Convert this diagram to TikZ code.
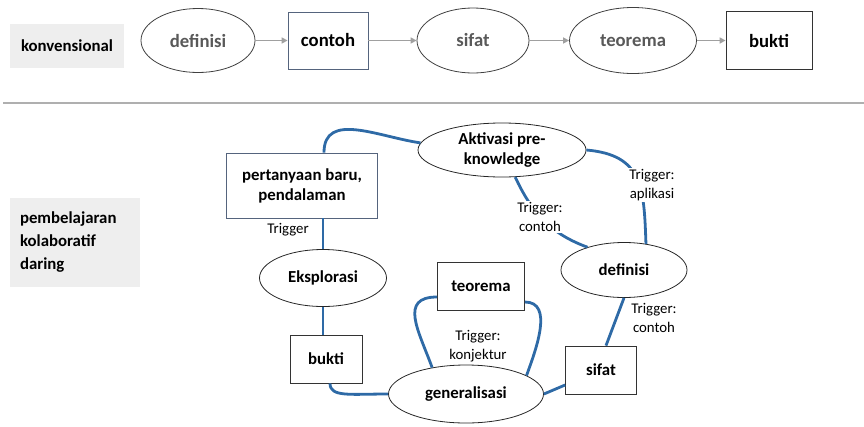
\documentclass[tikz,border=0pt]{standalone}
\usepackage{fontspec}
\setmainfont{Carlito}
\usetikzlibrary{shapes.geometric,arrows.meta}
\definecolor{flowblue}{RGB}{46,106,166}
\definecolor{panelgray}{RGB}{238,238,238}
\definecolor{softtext}{RGB}{89,89,89}
\definecolor{arrowgray}{RGB}{160,160,160}
\definecolor{rulegray}{RGB}{175,175,175}
\definecolor{slate}{RGB}{85,100,125}

\begin{document}
\begin{tikzpicture}[x=1pt,y=1pt,
  panel/.style={fill=panelgray, inner sep=0pt, font=\fontsize{16.8}{23}\selectfont\bfseries},
  topoval/.style={ellipse, draw=black!75, line width=0.8pt, inner sep=0pt, text=softtext, font=\fontsize{18.7}{22}\selectfont\bfseries},
  topbox/.style={rectangle, draw=black!80, line width=0.8pt, inner sep=0pt, font=\fontsize{18.7}{22}\selectfont\bfseries},
  oval/.style={ellipse, draw=black!85, line width=0.8pt, inner sep=0pt, align=center, font=\fontsize{16.8}{20}\selectfont\bfseries},
  box/.style={rectangle, draw=black!80, line width=0.8pt, inner sep=0pt, align=center, font=\fontsize{16.8}{20}\selectfont\bfseries},
  flow/.style={-{Triangle[length=6pt,width=6pt]}, draw=arrowgray, line width=1.8pt},
  link/.style={draw=flowblue, line width=2.8pt},
  trig/.style={fill=white, inner sep=1pt, align=center, font=\fontsize{14.8}{19.5}\selectfont}
]
\useasboundingbox (0,0) rectangle (864,-426);

% conventional sequence
\node[panel, minimum width=114, minimum height=44] (konv) at (67,-46) {konvensional};
\node[topoval, minimum width=114, minimum height=64] (tdef) at (198,-40.5) {definisi};
\node[topbox, draw=slate, minimum width=80, minimum height=57] (tcon) at (328,-40.5) {contoh};
\node[topoval, minimum width=112, minimum height=65] (tsif) at (473,-40.5) {sifat};
\node[topoval, minimum width=127, minimum height=66] (tteo) at (633,-40.5) {teorema};
\node[topbox, minimum width=86, minimum height=58] (tbuk) at (769,-40.5) {bukti};

\draw[flow] (tdef) -- (tcon);
\draw[flow] (tcon) -- (tsif);
\draw[flow] (tsif) -- (tteo);
\draw[flow] (tteo) -- (tbuk);

% separator
\draw[rulegray, line width=1.5pt] (3,-103) -- (864,-103);

% collaborative cycle
\node[panel, minimum width=130, minimum height=89, text width=110pt, align=left] (kol) at (75,-242.5)
  {pembelajaran\\kolaboratif\\daring};

\node[oval, minimum width=168, minimum height=54] (akt) at (502,-150) {Aktivasi pre-\\knowledge};
\node[box, draw=slate, minimum width=151, minimum height=65] (tanya) at (302,-185.5) {pertanyaan baru,\\pendalaman};
\node[oval, minimum width=127, minimum height=57] (eks) at (323,-278) {Eksplorasi};
\node[box, minimum width=72, minimum height=48] (bbuk) at (326,-359) {bukti};
\node[box, minimum width=87, minimum height=48] (bteo) at (481,-286) {teorema};
\node[oval, minimum width=155, minimum height=58] (gen) at (466,-394) {generalisasi};
\node[box, minimum width=71, minimum height=48] (bsif) at (601,-370) {sifat};
\node[oval, minimum width=126, minimum height=55] (bdef) at (624,-270) {definisi};

\draw[link] (akt.175) to[out=172,in=90,looseness=1.1] ([xshift=22pt]tanya.north);
\draw[link] (akt.east) to[out=-5,in=92,looseness=1.3] (bdef.50);
\draw[link] (akt.-64) to[out=-65,in=160] (bdef.148);
\draw[link] (tanya.south -| eks.north) -- (eks.north);
\draw[link] (eks.south) -- (eks.south |- bbuk.north);
\draw[link] ([xshift=4pt]bbuk.south) .. controls +(0,-14) and +(-38,0) .. (gen.west);
\draw[link] ([yshift=-11pt]bteo.west) to[out=180,in=110,looseness=1.4] (gen.142);
\draw[link] ([yshift=-16pt]bteo.east) to[out=0,in=70,looseness=1.0] (gen.17);
\draw[link] (gen.east) -- ([yshift=-15pt]bsif.west);
\draw[link] (bdef.south) -- ([xshift=5pt]bsif.north);

% trigger labels
\node[trig] (trg1) at (288,-230) {Trigger};
\node[trig] (trgA) at (652,-185) {Trigger:\\aplikasi};
\node[trig] (trgC1) at (540,-217) {Trigger:\\contoh};
\node[trig] (trgK) at (478,-346) {Trigger:\\konjektur};
\node[trig] (trgC2) at (654,-318) {Trigger:\\contoh};
\end{tikzpicture}
\end{document}
